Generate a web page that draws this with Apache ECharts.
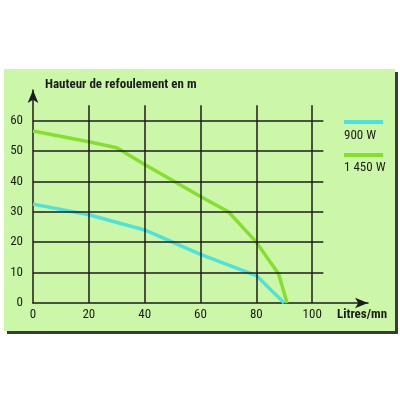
<!DOCTYPE html>
<html>
<head>
<meta charset="utf-8">
<script src="https://cdn.jsdelivr.net/npm/echarts@6/dist/echarts.min.js"></script>
<style>
html,body{margin:0;padding:0;background:#ffffff;}
#chart{width:400px;height:400px;}
</style>
</head>
<body>
<div id="chart"></div>
<script>
// Data
const seriesNames = ['900 W', '1 450 W'];
const flow900 = [0, 20, 40, 60, 80, 90];
const head900 = [32.5, 29, 24, 16, 9, 0];
const flow1450 = [0, 20, 30, 40, 60, 70, 80, 88, 91];
const head1450 = [56.5, 53, 51, 45.5, 35, 30, 20, 9.5, 0];
const xTicks = [0, 20, 40, 60, 80, 100];
const yTicks = [0, 10, 20, 30, 40, 50, 60];
const gridX = [20, 40, 60, 80, 100];
const gridY = [10, 20, 30, 40, 50, 60];
const gridXEnd = 104;
const gridYEnd = 65;
const xName = 'Litres/mn';
const yName = 'Hauteur de refoulement en m';

const FONT = '"Roboto Condensed", "DejaVu Sans Condensed", sans-serif';
const INK = '#1c1c1c';
const colors = ['#4ee2de', '#86df30'];

const pairs = (xs, ys) => xs.map((x, i) => [x, ys[i]]);
const gridLines = gridY.map(y => [{coord: [0, y]}, {coord: [gridXEnd, y]}])
  .concat(gridX.map(x => [{coord: [x, 0]}, {coord: [x, gridYEnd]}]));

// legend: icon row and text row per series
const iconTops = [115, 148];
const textTops = [123, 155];
const legends = [];
seriesNames.forEach((n, i) => {
  legends.push({
    left: 339, top: iconTops[i], itemWidth: 39, itemHeight: 4, icon: 'rect',
    data: [n], formatter: () => '', textStyle: {fontSize: 1}
  });
  legends.push({
    left: 334, top: textTops[i], itemWidth: 0, itemHeight: 16, icon: 'rect',
    data: [n],
    textStyle: {fontFamily: FONT, fontSize: 13, color: INK}
  });
});

const chart = echarts.init(document.getElementById('chart'), null, {renderer: 'canvas'});
chart.setOption({
  animation: false,
  backgroundColor: '#ffffff',
  graphic: [{
    type: 'rect', z: -100, silent: true,
    shape: {x: 4, y: 69, width: 391, height: 262},
    style: {fill: '#cdf7a8', shadowColor: '#3a3a3a', shadowOffsetX: 3, shadowOffsetY: 3, shadowBlur: 0}
  }],
  grid: {left: 33, right: 32, top: 90, bottom: 97, containLabel: false},
  legend: legends,
  xAxis: {
    type: 'value', min: 0, max: 120, interval: 20,
    name: xName, nameLocation: 'end', nameGap: -6,
    nameTextStyle: {fontFamily: FONT, fontSize: 13, fontWeight: 'bold', color: INK, align: 'center', verticalAlign: 'top', padding: [5, 0, 0, 0]},
    axisLine: {lineStyle: {color: INK, width: 1.5}, symbol: ['none', 'arrow'], symbolSize: [8, 13]},
    axisTick: {show: false},
    splitLine: {show: false},
    axisLabel: {fontFamily: FONT, fontSize: 13, color: INK, margin: 5,
      formatter: v => xTicks.indexOf(v) >= 0 ? String(v) : ''}
  },
  yAxis: {
    type: 'value', min: 0, max: 70, interval: 10,
    name: yName, nameLocation: 'end', nameGap: 5,
    nameTextStyle: {fontFamily: FONT, fontSize: 13, fontWeight: 'bold', color: INK, align: 'left', verticalAlign: 'middle', padding: [0, 0, 0, 12]},
    axisLine: {lineStyle: {color: INK, width: 1.5}, symbol: ['none', 'arrow'], symbolSize: [8, 13]},
    axisTick: {show: false},
    splitLine: {show: false},
    axisLabel: {fontFamily: FONT, fontSize: 13, color: INK, margin: 10,
      formatter: v => yTicks.indexOf(v) >= 0 ? String(v) : ''}
  },
  series: [
    {
      name: 'grid', type: 'line', data: [], z: 1, silent: true,
      markLine: {silent: true, symbol: ['none', 'none'], label: {show: false},
        lineStyle: {color: INK, width: 1.5, type: 'solid'}, emphasis: {disabled: true},
        data: gridLines}
    },
    {
      name: seriesNames[0], type: 'line', z: 3, showSymbol: false, symbol: 'none',
      color: colors[0], lineStyle: {width: 3.5, color: colors[0]},
      data: pairs(flow900, head900)
    },
    {
      name: seriesNames[1], type: 'line', z: 3, showSymbol: false, symbol: 'none',
      color: colors[1], lineStyle: {width: 3.5, color: colors[1]},
      data: pairs(flow1450, head1450)
    }
  ]
});
</script>
</body>
</html>
